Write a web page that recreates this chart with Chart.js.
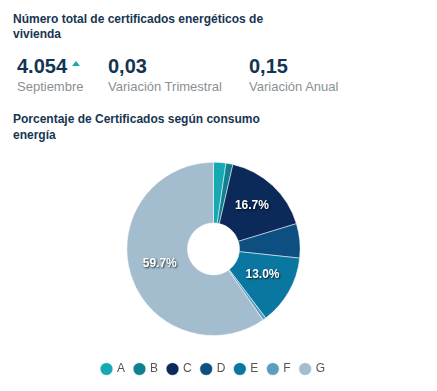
<!DOCTYPE html>
<html>
<head>
<meta charset="utf-8">
<script src="https://cdn.jsdelivr.net/npm/chart.js@4"></script>
<style>
  body { margin: 0; width: 437px; height: 391px; background: #fff; font-family: "Liberation Sans", Arial, sans-serif; overflow: hidden; position: relative; }
  .title { position: absolute; left: 13px; top: 12px; width: 270px; font-size: 12px; font-weight: bold; color: #173552; line-height: 15px; }
  .kpi { position: absolute; top: 54px; }
  .kpi .num { font-size: 20px; font-weight: bold; color: #133553; line-height: 24px; }
  .kpi .lbl { font-size: 13px; color: #8a8f94; line-height: 16px; margin-top: 1px; }
  .arrow { display: inline-block; width: 0; height: 0; border-left: 4px solid transparent; border-right: 4px solid transparent; border-bottom: 5px solid #19a7a8; vertical-align: top; margin: 7px 0 0 5px; }
  .sub { position: absolute; left: 13px; top: 111px; width: 270px; font-size: 12px; font-weight: bold; color: #173552; line-height: 16px; }
  #wrap { position: absolute; left: 0; top: 152px; width: 437px; height: 236px; }
</style>
</head>
<body>
<div class="title">Número total de certificados energéticos de vivienda</div>
<div class="kpi" style="left:17px"><div class="num">4.054<span class="arrow"></span></div><div class="lbl">Septiembre</div></div>
<div class="kpi" style="left:108px"><div class="num">0,03</div><div class="lbl">Variación Trimestral</div></div>
<div class="kpi" style="left:249px"><div class="num">0,15</div><div class="lbl">Variación Anual</div></div>
<div class="sub">Porcentaje de Certificados según consumo energía</div>
<div id="wrap"><canvas id="donut"></canvas></div>
<script>
// Categorías y valores (%)
const categories = ['A', 'B', 'C', 'D', 'E', 'F', 'G'];
const values = [2.3, 1.3, 16.7, 6.4, 13.0, 0.6, 59.7];
const colors = ['#16a9b1', '#0f7f92', '#0b2a5a', '#0d4f80', '#0a77a1', '#5b9fc0', '#a4bdce'];

// Etiquetas dentro de los sectores grandes
const sliceLabels = {
    id: 'sliceLabels',
    afterDatasetsDraw(chart) {
        const ctx = chart.ctx;
        const meta = chart.getDatasetMeta(0);
        ctx.save();
        ctx.font = 'bold 12px "Liberation Sans", Arial, sans-serif';
        ctx.textAlign = 'center';
        ctx.textBaseline = 'middle';
        meta.data.forEach((arc, i) => {
            if (values[i] < 10) return;
            const p = arc.tooltipPosition();
            ctx.shadowColor = 'rgba(0,0,0,0.75)';
            ctx.shadowBlur = 2;
            ctx.shadowOffsetX = 1;
            ctx.shadowOffsetY = 1;
            ctx.fillStyle = '#fff';
            ctx.fillText(values[i].toFixed(1) + '%', p.x, p.y - 2);
        });
        ctx.restore();
    }
};

new Chart(document.getElementById('donut'), {
    type: 'doughnut',
    data: {
        labels: categories,
        datasets: [{
            data: values,
            backgroundColor: colors,
            borderColor: '#ffffff',
            borderWidth: 0.5
        }]
    },
    options: {
        responsive: true,
        maintainAspectRatio: false,
        animation: false,
        cutout: '30%',
        layout: { padding: { top: 10, bottom: 3, left: 0, right: 10 } },
        plugins: {
            tooltip: { enabled: false },
            legend: {
                position: 'bottom',
                title: { display: true, text: '', font: { size: 1 }, padding: { top: 16, bottom: 0 } },
                labels: {
                    usePointStyle: true,
                    pointStyle: 'circle',
                    boxWidth: 9,
                    boxHeight: 9,
                    padding: 10,
                    color: '#555',
                    font: { size: 12, family: '"Liberation Sans", Arial, sans-serif' }
                }
            }
        }
    },
    plugins: [sliceLabels]
});
</script>
</body>
</html>
